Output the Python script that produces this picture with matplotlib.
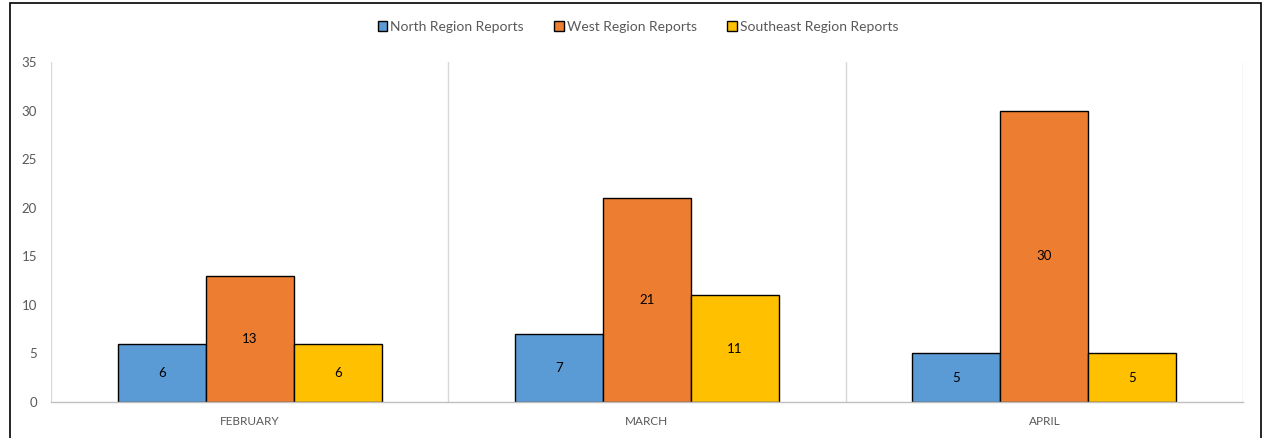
import matplotlib
matplotlib.use("Agg")
import matplotlib.pyplot as plt
from matplotlib.patches import Rectangle
import numpy as np

plt.rcParams['font.family'] = ['Lato', 'DejaVu Sans']

months = ["FEBRUARY", "MARCH", "APRIL"]
series_names = ["North Region Reports", "West Region Reports", "Southeast Region Reports"]
north = [6, 7, 5]
west = [13, 21, 30]
southeast = [6, 11, 5]
colors = ["#5B9BD5", "#ED7D31", "#FFC000"]
y_ticks = [0, 5, 10, 15, 20, 25, 30, 35]

W, H = 1265, 438
fig = plt.figure(figsize=(W / 100, H / 100), dpi=100)
ax = fig.add_axes([51 / W, 1 - 402 / H, (1243 - 51) / W, (402 - 62) / H])

x = np.arange(len(months))
bw = 88 / ((1243 - 51) / 3)
for i, (vals, name, c) in enumerate(zip([north, west, southeast], series_names, colors)):
    bars = ax.bar(x + (i - 1) * bw, vals, width=bw, color=c, edgecolor="#000000",
                  linewidth=1.0, label=name, zorder=3)
    for b, v in zip(bars, vals):
        ax.text(b.get_x() + b.get_width() / 2, v / 2, str(v), ha="center", va="center",
                fontsize=9.5, color="#000000", zorder=4)

ax.set_xlim(-0.5, 2.5)
ax.set_ylim(0, 35)
ax.set_yticks(y_ticks)
ax.set_xticks(x)
ax.set_xticklabels(months)
for xv in [-0.5, 0.5, 1.5, 2.5]:
    ax.axvline(xv, color="#D9D9D9", linewidth=1.0, zorder=1)

for s in ["top", "right", "left"]:
    ax.spines[s].set_visible(False)
ax.spines["bottom"].set_color("#BFBFBF")
ax.spines["bottom"].set_linewidth(1.0)
ax.spines["bottom"].set_zorder(5)
ax.tick_params(axis="both", length=0, colors="#595959")
ax.tick_params(axis="y", labelsize=9.5, pad=10)
ax.tick_params(axis="x", labelsize=8.5, pad=10)

leg = fig.legend(loc="center", bbox_to_anchor=(638 / W, 1 - 27 / H), ncol=3, frameon=False,
                 fontsize=10, handlelength=0.7, handleheight=0.7, handletextpad=0.2,
                 columnspacing=2.2, labelcolor="#595959")

fig.patches.append(Rectangle((10 / W, -0.05), (1261 - 10) / W, 1.05 - 3 / H,
                             transform=fig.transFigure, fill=False, edgecolor="#000000",
                             linewidth=1.2, zorder=10))

fig.savefig("out.png", dpi=100)
